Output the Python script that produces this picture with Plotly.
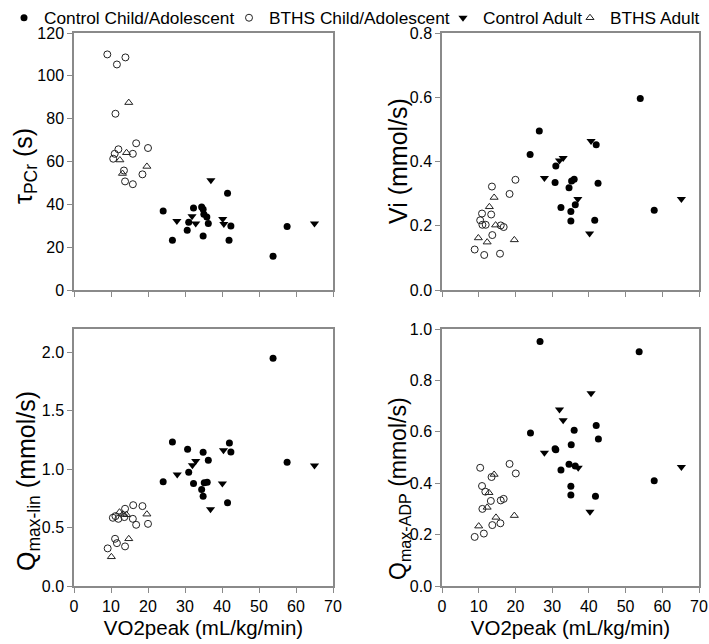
import plotly.graph_objects as go

# ---------------- data ----------------
groups = ["Control Child/Adolescent", "BTHS Child/Adolescent", "Control Adult", "BTHS Adult"]

# tau PCr (s)
tau_cc_x = [24.1, 26.6, 31.0, 30.6, 32.3, 34.5, 34.9, 35.1, 35.9, 36.3, 34.9, 41.5, 42.4, 41.9, 53.8, 57.6]
tau_cc_y = [36.9, 23.2, 31.6, 27.9, 38.3, 38.8, 37.7, 35.4, 34.1, 31.1, 25.2, 45.2, 29.9, 23.2, 15.8, 29.6]
tau_bc_x = [9.0, 11.6, 13.9, 11.2, 16.8, 20.0, 12.0, 15.9, 11.0, 10.6, 13.5, 18.5, 13.8, 15.9]
tau_bc_y = [110, 105.3, 108.6, 82.3, 68.5, 66.3, 65.7, 63.6, 63.6, 61.3, 55.8, 54.0, 50.7, 49.4]
tau_ca_x = [27.8, 31.9, 32.9, 37.0, 40.2, 40.5, 65.0]
tau_ca_y = [32.2, 34.4, 31.0, 51.3, 33.2, 30.8, 31.1]
tau_ba_x = [14.8, 14.2, 12.4, 19.7, 13.1]
tau_ba_y = [87.5, 64.1, 60.7, 57.7, 54.4]

# Vi (mmol/s)
vi_cc_x = [24.0, 26.5, 31.0, 30.8, 32.4, 54.0, 42.0, 42.5, 57.8, 35.3, 36.0, 34.6, 36.3, 35.1, 35.1, 41.6]
vi_cc_y = [0.422, 0.495, 0.386, 0.335, 0.257, 0.596, 0.452, 0.332, 0.248, 0.339, 0.345, 0.318, 0.265, 0.244, 0.215, 0.217]
vi_bc_x = [20.0, 13.6, 18.4, 10.9, 13.4, 10.4, 11.0, 11.9, 16.0, 16.8, 13.7, 8.9, 11.5, 15.8]
vi_bc_y = [0.343, 0.322, 0.299, 0.238, 0.235, 0.217, 0.203, 0.203, 0.201, 0.196, 0.171, 0.126, 0.109, 0.113]
vi_ca_x = [27.9, 32.0, 33.0, 40.6, 37.0, 40.2, 65.2]
vi_ca_y = [0.349, 0.403, 0.411, 0.464, 0.283, 0.176, 0.283]
vi_ba_x = [14.2, 12.9, 14.6, 9.9, 12.3, 19.7]
vi_ba_y = [0.288, 0.259, 0.202, 0.162, 0.149, 0.156]

# Qmax-lin (mmol/s)
ql_cc_x = [26.6, 30.7, 34.9, 42.0, 42.4, 36.3, 31.0, 24.1, 32.3, 35.2, 36.0, 34.5, 34.9, 41.5, 53.8, 57.6]
ql_cc_y = [1.233, 1.171, 1.145, 1.225, 1.148, 1.077, 0.974, 0.892, 0.878, 0.883, 0.889, 0.826, 0.769, 0.712, 1.949, 1.06]
ql_bc_x = [10.5, 11.2, 12.0, 13.8, 13.6, 16.0, 18.5, 15.9, 16.8, 20.0, 11.1, 11.6, 9.1, 13.8]
ql_bc_y = [0.584, 0.598, 0.575, 0.661, 0.59, 0.692, 0.684, 0.575, 0.524, 0.532, 0.404, 0.367, 0.322, 0.339]
ql_ca_x = [40.4, 32.9, 32.0, 27.9, 40.1, 36.9, 65.0]
ql_ca_y = [1.162, 1.071, 1.034, 0.955, 0.878, 0.658, 1.032]
ql_ba_x = [12.3, 13.2, 19.7, 14.8, 10.1, 14.2]
ql_ba_y = [0.632, 0.615, 0.615, 0.404, 0.25, 0.61]

# Qmax-ADP (mmol/s)
qa_cc_x = [24.1, 26.7, 53.7, 36.0, 42.0, 42.6, 30.8, 31.0, 35.2, 34.6, 36.3, 32.4, 35.1, 35.1, 41.8, 57.8]
qa_cc_y = [0.595, 0.951, 0.911, 0.606, 0.625, 0.572, 0.534, 0.53, 0.55, 0.474, 0.467, 0.451, 0.388, 0.354, 0.349, 0.41]
qa_bc_x = [10.4, 18.4, 20.1, 13.5, 10.9, 11.8, 13.3, 16.0, 16.8, 11.0, 13.7, 15.9, 8.9, 11.4]
qa_bc_y = [0.46, 0.475, 0.438, 0.424, 0.389, 0.367, 0.331, 0.333, 0.339, 0.3, 0.237, 0.244, 0.191, 0.204]
qa_ca_x = [40.6, 32.0, 33.0, 27.9, 37.1, 40.3, 65.2]
qa_ca_y = [0.75, 0.687, 0.645, 0.518, 0.46, 0.289, 0.463]
qa_ba_x = [14.2, 12.8, 12.3, 14.7, 19.7, 10.0]
qa_ba_y = [0.434, 0.363, 0.306, 0.267, 0.274, 0.233]

x_ticks = [0, 10, 20, 30, 40, 50, 60, 70]
y_titles = ["τ<sub>PCr</sub> (s)", "Vi (mmol/s)", "Q<sub>max-lin</sub> (mmol/s)", "Q<sub>max-ADP</sub> (mmol/s)"]
x_title = "VO2peak (mL/kg/min)"

# ---------------- figure ----------------
FONT = "Liberation Sans, Arial, sans-serif"
AXIS_COLOR = "#8a8a8a"

markers = [
    dict(symbol="circle", size=7, color="black", line=dict(width=0)),
    dict(symbol="circle-open", size=7, color="#222222", line=dict(width=1)),
    dict(symbol="triangle-down", size=8, color="black", line=dict(width=0)),
    dict(symbol="triangle-up-open", size=7, color="#222222", line=dict(width=1)),
]
legend_ids = ["legend", "legend2", "legend3", "legend4"]

panels = [
    ("x", "y", [(tau_cc_x, tau_cc_y), (tau_bc_x, tau_bc_y), (tau_ca_x, tau_ca_y), (tau_ba_x, tau_ba_y)]),
    ("x2", "y2", [(vi_cc_x, vi_cc_y), (vi_bc_x, vi_bc_y), (vi_ca_x, vi_ca_y), (vi_ba_x, vi_ba_y)]),
    ("x3", "y3", [(ql_cc_x, ql_cc_y), (ql_bc_x, ql_bc_y), (ql_ca_x, ql_ca_y), (ql_ba_x, ql_ba_y)]),
    ("x4", "y4", [(qa_cc_x, qa_cc_y), (qa_bc_x, qa_bc_y), (qa_ca_x, qa_ca_y), (qa_ba_x, qa_ba_y)]),
]

fig = go.Figure()
for p, (xa, ya, series) in enumerate(panels):
    for g, (xs, ys) in enumerate(series):
        fig.add_trace(go.Scatter(
            x=xs, y=ys, mode="markers", name=groups[g],
            marker=markers[g], xaxis=xa, yaxis=ya,
            showlegend=(p == 0), legend=legend_ids[g],
        ))

W, H = 709, 644
ML, MR, MT, MB = 74, 10, 33, 58
pw = W - ML - MR
ph = H - MT - MB

def dx(a, b):
    return [(a - ML) / pw, (b - ML) / pw]

def dy(top, bottom):
    return [(H - MB - bottom) / ph, (H - MB - top) / ph]

tickfont = dict(size=16, color="black", family=FONT)
common_x = dict(range=[0, 70], tickvals=x_ticks, showline=True, linecolor=AXIS_COLOR, linewidth=1.5,
                mirror=True, ticks="outside", ticklen=5, tickcolor=AXIS_COLOR, showgrid=False,
                zeroline=False, tickfont=tickfont)
common_y = dict(showline=True, linecolor=AXIS_COLOR, linewidth=1.5, mirror=True, ticks="outside",
                ticklen=5, tickcolor=AXIS_COLOR, showgrid=False, zeroline=False, tickfont=tickfont)
xtitle_font = dict(size=20.5, color="black", family=FONT)

fig.update_layout(
    width=W, height=H,
    margin=dict(l=ML, r=MR, t=MT, b=MB, autoexpand=False),
    plot_bgcolor="white", paper_bgcolor="white",
    font=dict(family=FONT, color="black"),
    xaxis=dict(common_x, domain=dx(74, 333), anchor="y", showticklabels=False),
    yaxis=dict(common_y, domain=dy(33, 290), anchor="x", range=[0, 120], tickvals=[0, 20, 40, 60, 80, 100, 120]),
    xaxis2=dict(common_x, domain=dx(442, 699), anchor="y2", showticklabels=False),
    yaxis2=dict(common_y, domain=dy(33, 290), anchor="x2", range=[0, 0.8], tickvals=[0, 0.2, 0.4, 0.6, 0.8],
                tickformat=".1f"),
    xaxis3=dict(common_x, domain=dx(74, 333), anchor="y3",
                title=dict(text=x_title, font=xtitle_font, standoff=7)),
    yaxis3=dict(common_y, domain=dy(329, 586), anchor="x3", range=[0, 2.2], tickvals=[0, 0.5, 1.0, 1.5, 2.0],
                tickformat=".1f"),
    xaxis4=dict(common_x, domain=dx(442, 699), anchor="y4",
                title=dict(text=x_title, font=xtitle_font, standoff=7)),
    yaxis4=dict(common_y, domain=dy(329, 586), anchor="x4", range=[0, 1.0], tickvals=[0, 0.2, 0.4, 0.6, 0.8, 1.0],
                tickformat=".1f"),
)

# y-axis titles (rotated), positioned in page pixels
ytitle_pos = [(25, 166), (398, 161), (28, 481), (399, 489)]
ytitle_size = [25, 25, 25, 23]
for txt, (px, py), fs in zip(y_titles, ytitle_pos, ytitle_size):
    fig.add_annotation(text=txt, textangle=-90, xref="paper", yref="paper",
                       x=(px - ML) / pw, y=(H - MB - py) / ph, xanchor="center", yanchor="middle",
                       showarrow=False, font=dict(size=fs, color="black", family=FONT))

# one legend per group so each entry sits where the reference has it
legend_left_px = [4, 229, 443, 570]
for lid, lx in zip(legend_ids, legend_left_px):
    fig.update_layout({lid: dict(
        xref="container", yref="container", x=lx / W, y=1.0, xanchor="left", yanchor="top",
        orientation="h", bgcolor="rgba(0,0,0,0)", borderwidth=0, itemwidth=30,
        font=dict(size=17.3, color="black", family=FONT),
    )})

fig.write_html("out.html", config={"displayModeBar": False},
               post_script="document.body.style.margin='0';")
